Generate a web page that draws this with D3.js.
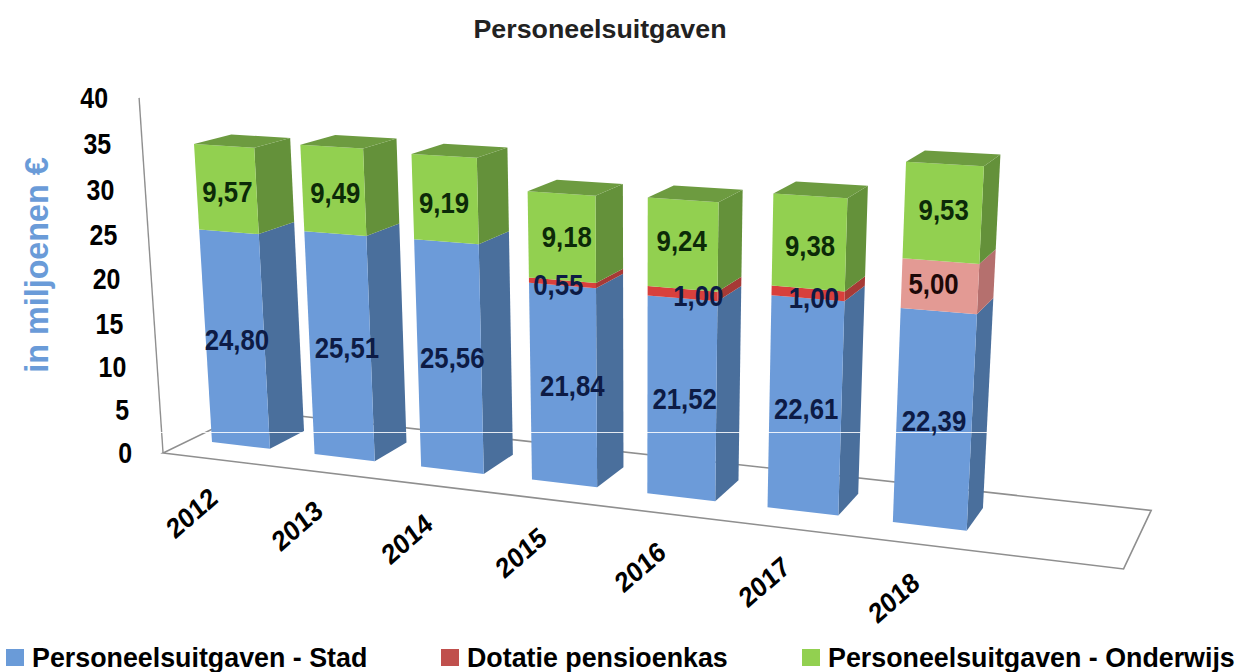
<!DOCTYPE html>
<html lang="nl">

<head>
    <meta charset="utf-8">
    <title>Personeelsuitgaven</title>
    <script src="https://d3js.org/d3.v7.min.js"></script>
    <style>
        body { margin: 0; background: #fff; }
        svg { display: block; }
        text { font-family: "Liberation Sans", Arial, sans-serif; font-weight: bold; fill: #000; }
    </style>
</head>

<body>
    <script>
        // chart values
        const years = [2012, 2013, 2014, 2015, 2016, 2017, 2018];
        const stad = [24.80, 25.51, 25.56, 21.84, 21.52, 22.61, 22.39];
        const pensioen = [0, 0, 0, 0.55, 1.00, 1.00, 5.00];
        const onderwijs = [9.57, 9.49, 9.19, 9.18, 9.24, 9.38, 9.53];
        const seriesNames = ["Personeelsuitgaven - Stad", "Dotatie pensioenkas", "Personeelsuitgaven - Onderwijs"];

        const width = 1238;
        const height = 672;

        const colors = [
            { front: "#6c9bd9", side: "#4a6f9c", top: "#4a6f9c", legend: "#6a9bd8", label: "#0d1b45" },
            { front: "#d8403c", side: "#a63a36", top: "#a63a36", legend: "#c0504d", label: "#0d1b45" },
            { front: "#92d050", side: "#64913a", top: "#6d9b40", legend: "#92d050", label: "#0c2a08" }
        ];
        // the 2018 pension part is drawn lighter in the original
        const lightPension = { front: "#e39a94", side: "#b5706e", label: "#1c0808" };

        // scales: category, value and depth go to "box" coordinates, project() turns those into pixels
        const x = d3.scalePoint().domain(years).range([0, 6]);
        const y = d3.scaleLinear().domain([0, 40]).range([0, 1]);
        const barWidth = 0.57;
        const floor = { left: -0.211, right: 7.8, front: -0.74, back: 1.7 };

        // perspective of the 3D box, fitted on the corners of the bars
        function project(u, v, w) {
            const d = 1 - 0.0189 * u - 0.0472 * v + 0.02866 * w;
            return [
                (212 + 96.6 * u - 30.1 * v + 42.4 * w) / d,
                (442 + 3.47 * u - 353.6 * v - 5.31 * w) / d
            ];
        }

        const svg = d3.select("body").append("svg")
            .attr("width", width)
            .attr("height", height);

        const polygon = d3.line().curve(d3.curveLinearClosed);

        // floor and value axis line
        svg.append("path")
            .attr("d", polygon([
                project(floor.left, 0, floor.front),
                project(floor.right, 0, floor.front),
                project(floor.right, 0, floor.back),
                project(floor.left, 0, floor.back)
            ]))
            .attr("fill", "none")
            .attr("stroke", "#8f8f8f")
            .attr("stroke-width", 1.6);

        svg.append("path")
            .attr("d", d3.line()([project(floor.left, y(0), floor.front), project(floor.left, y(40), floor.front)]))
            .attr("stroke", "#8f8f8f")
            .attr("stroke-width", 1.4);

        // stack the three series per year
        const rows = years.map((year, i) => ({ year, stad: stad[i], pensioen: pensioen[i], onderwijs: onderwijs[i] }));
        const stack = d3.stack().keys(["stad", "pensioen", "onderwijs"])(rows);

        const bars = svg.append("g");
        const labels = [];

        // labels that sit off centre in the original (year-series index)
        const nudge = {
            "2012-0": [2, 0], "2013-0": [7, 0], "2014-0": [3, 0], "2015-0": [9, 0], "2016-0": [3, 0], "2017-0": [1, 2],
            "2015-1": [-4, 2], "2016-1": [16, 2], "2017-1": [6, 4], "2018-1": [-6, -2],
            "2012-2": [1, 3], "2013-2": [2, 2], "2014-2": [-1, 4], "2015-2": [5, 0], "2016-2": [-1, -4], "2017-2": [1, 3], "2018-2": [1, -3]
        };

        const fmt = d3.format(".2f");

        years.forEach((year, i) => {
            const u0 = x(year);
            const u1 = u0 + barWidth;
            stack.forEach((layer, s) => {
                const [from, to] = layer[i];
                if (to - from <= 0) return;
                let style = colors[s];
                if (s === 1 && year === 2018) style = { ...style, ...lightPension };
                const v0 = y(from);
                const v1 = y(to);

                // side face
                bars.append("path")
                    .attr("d", polygon([project(u1, v0, 0), project(u1, v0, 1), project(u1, v1, 1), project(u1, v1, 0)]))
                    .attr("fill", style.side);
                // front face
                bars.append("path")
                    .attr("d", polygon([project(u0, v0, 0), project(u1, v0, 0), project(u1, v1, 0), project(u0, v1, 0)]))
                    .attr("fill", style.front);
                // only the last part of the stack shows its top
                if (s === stack.length - 1) {
                    bars.append("path")
                        .attr("d", polygon([project(u0, v1, 0), project(u1, v1, 0), project(u1, v1, 1), project(u0, v1, 1)]))
                        .attr("fill", style.top);
                }

                const pos = project(u0 + barWidth / 2, (v0 + v1) / 2, 0);
                const shift = nudge[year + "-" + s] || [0, 0];
                labels.push({
                    text: fmt(to - from).replace(".", ","),
                    x: pos[0] + shift[0],
                    y: pos[1] + shift[1],
                    color: style.label
                });
            });
        });

        // thin white scan line that runs through the original picture
        svg.append("line")
            .attr("x1", 160).attr("x2", 987)
            .attr("y1", 432.5).attr("y2", 432.5)
            .attr("stroke", "#fff")
            .attr("stroke-opacity", 0.85)
            .attr("stroke-width", 1);

        // data labels; the original is squeezed horizontally
        svg.append("g").selectAll("text")
            .data(labels)
            .enter()
            .append("text")
            .attr("transform", d => "translate(" + d.x + "," + d.y + ") scale(0.86,1)")
            .attr("text-anchor", "middle")
            .attr("dominant-baseline", "central")
            .attr("font-size", 30)
            .style("fill", d => d.color)
            .text(d => d.text);

        // value ticks
        svg.append("g").selectAll("text")
            .data(y.ticks(8))
            .enter()
            .append("text")
            .attr("transform", d => {
                const p = project(floor.left, y(d), floor.front);
                return "translate(" + (p[0] - 31) + "," + p[1] + ") scale(0.86,1)";
            })
            .attr("text-anchor", "end")
            .attr("dominant-baseline", "central")
            .attr("font-size", 29)
            .text(d => d);

        // year labels
        svg.append("g").selectAll("text")
            .data(years)
            .enter()
            .append("text")
            .attr("transform", d => {
                const p = project(x(d) + barWidth / 2, 0, floor.front);
                return "translate(" + (p[0] - 22) + "," + (p[1] + 54) + ") scale(0.9,1) rotate(-38)";
            })
            .attr("text-anchor", "middle")
            .attr("dominant-baseline", "central")
            .attr("font-size", 28)
            .text(d => d);

        // axis title
        svg.append("text")
            .attr("transform", "translate(36,265) scale(1.05,1) rotate(-90)")
            .attr("text-anchor", "middle")
            .attr("dominant-baseline", "central")
            .attr("font-size", 32.3)
            .style("fill", "#6a9bd8")
            .text("in miljoenen €");

        // chart title
        svg.append("text")
            .attr("x", 600)
            .attr("y", 38)
            .attr("text-anchor", "middle")
            .attr("font-size", 25)
            .attr("textLength", 253)
            .attr("lengthAdjust", "spacingAndGlyphs")
            .style("fill", "#222")
            .text("Personeelsuitgaven");

        // legend
        const legendX = [6, 441, 802];
        const legend = svg.append("g").selectAll("g")
            .data(seriesNames)
            .enter()
            .append("g")
            .attr("transform", (d, i) => "translate(" + legendX[i] + ",0)");

        legend.append("rect")
            .attr("y", 649)
            .attr("width", 18)
            .attr("height", 17)
            .attr("fill", (d, i) => colors[i].legend);

        legend.append("text")
            .attr("transform", "translate(26,667) scale(0.958,1)")
            .attr("font-size", 28)
            .text(d => d);
    </script>
</body>

</html>
